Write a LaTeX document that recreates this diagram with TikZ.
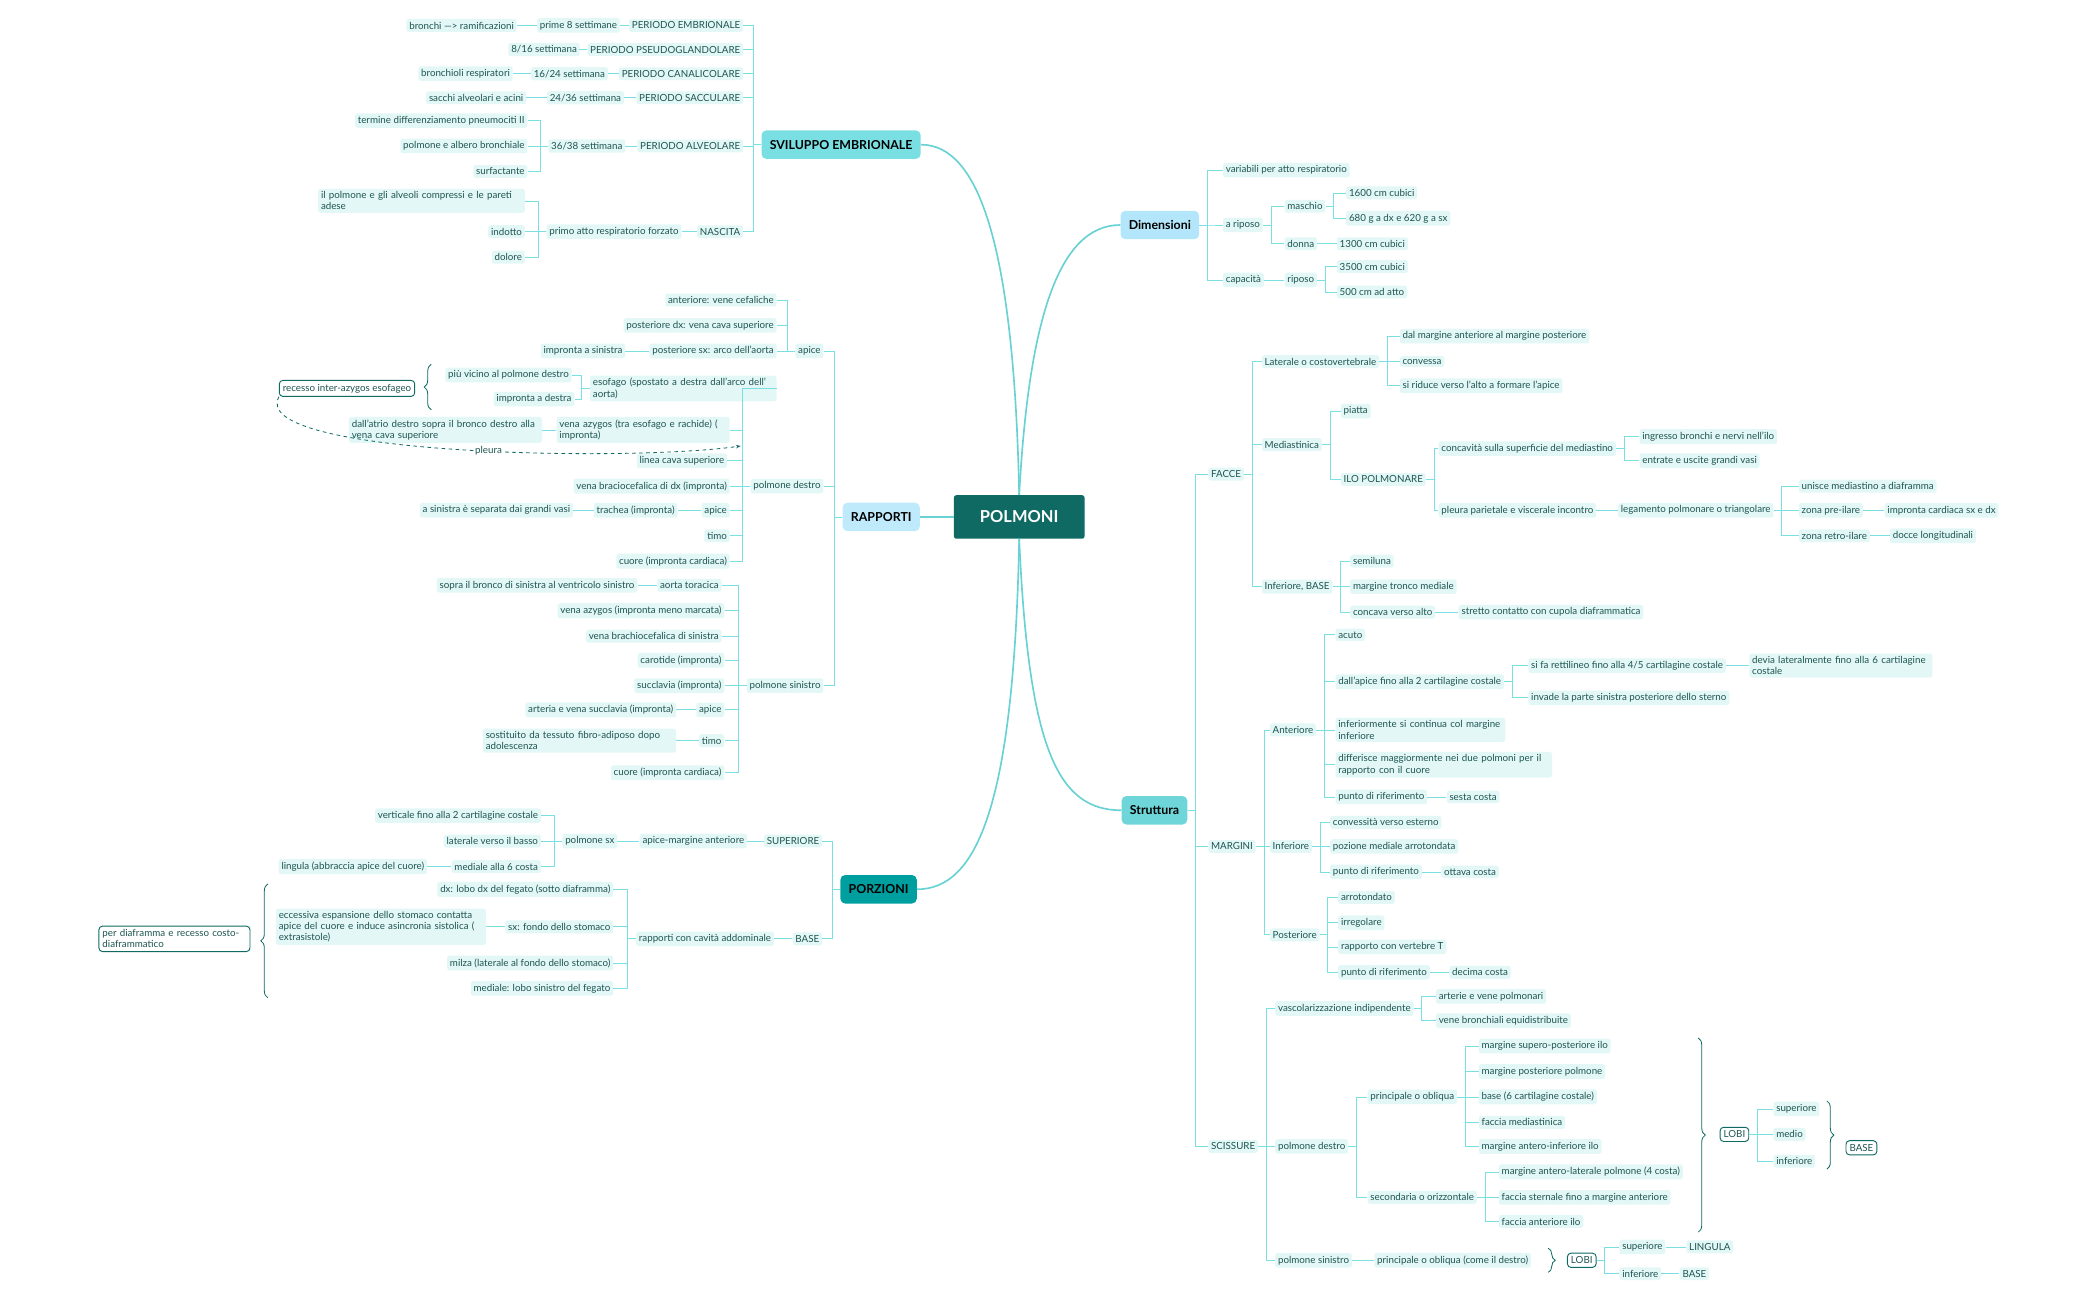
\documentclass[tikz,border=0pt]{standalone}
\usepackage{fontspec}
\setmainfont{Lato}
\usetikzlibrary{decorations.pathreplacing,arrows.meta}
\definecolor{tx}{HTML}{1E5550}
\definecolor{lf}{HTML}{E3F7F7}
\definecolor{lnc}{HTML}{7ADFE2}
\definecolor{rootc}{HTML}{0E6A63}
\begin{document}
\begin{tikzpicture}[x=0.04cm,y=-0.04cm,
 lf/.style={fill=lf,text=tx,rounded corners=2pt,inner sep=2.4pt,font=\fontsize{8.3}{9.4}\selectfont,align=left},
 ol/.style={draw=rootc,fill=white,text=tx,rounded corners=3pt,inner sep=3pt,line width=0.8pt,font=\fontsize{8.3}{9.4}\selectfont,align=left},
 mn/.style={rounded corners=4pt,inner sep=7pt,font=\bfseries\fontsize{10.5}{12}\selectfont,text=black,minimum height=0.85cm},
 ln/.style={draw=lnc,line width=0.6pt},
 br/.style={draw=rootc,line width=0.7pt,decorate,decoration={brace,amplitude=6pt}},
 big/.style={draw=lnc!85!teal,line width=1.4pt}]
\useasboundingbox (0,0) rectangle (1568,970);
\newcommand\cR[2]{\draw[ln] (#1.east) -- ++(6,0) |- (#2.west);}
\newcommand\cL[2]{\draw[ln] (#1.west) -- ++(-6,0) |- (#2.east);}
% root
\node[fill=rootc,text=white,font=\bfseries\fontsize{14}{16}\selectfont,minimum width=3.9cm,minimum height=1.3cm,rounded corners=2pt] (root) at (761,386) {POLMONI};
\node[mn,fill=lnc] (svi) at (628,108) {SVILUPPO EMBRIONALE};
\node[mn,fill=cyan!30] (dim) at (866,168) {Dimensioni};
\node[mn,fill=cyan!25] (rap) at (658,386) {RAPPORTI};
\node[mn,fill=teal!75!cyan] (por) at (656,664) {PORZIONI};
\node[mn,fill=lnc!90!teal] (str) at (862,605) {Struttura};
\draw[big] (root.north) .. controls (757,180) and (730,108) .. (svi.east);
\draw[big] (root.north) .. controls (768,240) and (790,168) .. (dim.west);
\draw[big] (root.west) -- (rap.east);
\draw[big] (root.south) .. controls (757,600) and (730,664) .. (por.east);
\draw[big] (root.south) .. controls (768,560) and (790,605) .. (str.west);

% ---------- Dimensioni
\node[lf,anchor=west] (d1) at (913,127) {variabili per atto respiratorio};
\node[lf,anchor=west] (d2) at (913,168) {a riposo};
\node[lf,anchor=west] (d3) at (913,209) {capacità};
\node[lf,anchor=west] (d21) at (959,154) {maschio};
\node[lf,anchor=west] (d22) at (959,182) {donna};
\node[lf,anchor=west] (d211) at (1005,144) {1600 cm cubici};
\node[lf,anchor=west] (d212) at (1005,163) {680 g a dx e 620 g a sx};
\node[lf,anchor=west] (d221) at (998,182) {1300 cm cubici};
\node[lf,anchor=west] (d31) at (959,209) {riposo};
\node[lf,anchor=west] (d311) at (998,199) {3500 cm cubici};
\node[lf,anchor=west] (d312) at (998,218) {500 cm ad atto};
\foreach \c in {d1,d2,d3}{\cR{dim}{\c}}
\cR{d2}{d21}\cR{d2}{d22}\cR{d21}{d211}\cR{d21}{d212}\cR{d22}{d221}
\cR{d3}{d31}\cR{d31}{d311}\cR{d31}{d312}

% ---------- Struttura
\node[lf,anchor=west] (fac) at (902,354) {FACCE};
\node[lf,anchor=west] (mar) at (902,632) {MARGINI};
\node[lf,anchor=west] (sci) at (902,856) {SCISSURE};
\cR{str}{fac}\cR{str}{mar}\cR{str}{sci}
\node[lf,anchor=west] (lat) at (942,270) {Laterale o costovertebrale};
\node[lf,anchor=west] (med) at (942,332) {Mediastinica};
\node[lf,anchor=west] (inf) at (942,438) {Inferiore, BASE};
\cR{fac}{lat}\cR{fac}{med}\cR{fac}{inf}
\node[lf,anchor=west] (l1) at (1045,251) {dal margine anteriore al margine posteriore};
\node[lf,anchor=west] (l2) at (1045,270) {convessa};
\node[lf,anchor=west] (l3) at (1045,288) {si riduce verso l'alto a formare l'apice};
\cR{lat}{l1}\cR{lat}{l2}\cR{lat}{l3}
\node[lf,anchor=west] (m1) at (1001,307) {piatta};
\node[lf,anchor=west] (ilo) at (1001,358) {ILO POLMONARE};
\cR{med}{m1}\cR{med}{ilo}
\node[lf,anchor=west] (conc) at (1074,335) {concavità sulla superficie del mediastino};
\node[lf,anchor=west] (pleu) at (1074,381) {pleura parietale e viscerale incontro};
\cR{ilo}{conc}\cR{ilo}{pleu}
\node[lf,anchor=west] (c1) at (1224,326) {ingresso bronchi e nervi nell'ilo};
\node[lf,anchor=west] (c2) at (1224,344) {entrate e uscite grandi vasi};
\cR{conc}{c1}\cR{conc}{c2}
\node[lf,anchor=west] (leg) at (1208,381) {legamento polmonare o triangolare};
\cR{pleu}{leg}
\node[lf,anchor=west] (g1) at (1343,363) {unisce mediastino a diaframma};
\node[lf,anchor=west] (g2) at (1343,381) {zona pre-ilare};
\node[lf,anchor=west] (g3) at (1343,400) {zona retro-ilare};
\cR{leg}{g1}\cR{leg}{g2}\cR{leg}{g3}
\node[lf,anchor=west] (g21) at (1407,381) {impronta cardiaca sx e dx};
\node[lf,anchor=west] (g31) at (1411,400) {docce longitudinali};
\cR{g2}{g21}\cR{g3}{g31}
\node[lf,anchor=west] (i1) at (1008,419) {semiluna};
\node[lf,anchor=west] (i2) at (1008,438) {margine tronco mediale};
\node[lf,anchor=west] (i3) at (1008,457) {concava verso alto};
\node[lf,anchor=west] (i31) at (1089,457) {stretto contatto con cupola diaframmatica};
\cR{inf}{i1}\cR{inf}{i2}\cR{inf}{i3}\cR{i3}{i31}
% margini
\node[lf,anchor=west] (ant) at (948,545) {Anteriore};
\node[lf,anchor=west] (minf) at (948,632) {Inferiore};
\node[lf,anchor=west] (post) at (948,698) {Posteriore};
\cR{mar}{ant}\cR{mar}{minf}\cR{mar}{post}
\node[lf,anchor=west] (a1) at (997,474) {acuto};
\node[lf,anchor=west] (a2) at (997,509) {dall'apice fino alla 2 cartilagine costale};
\node[lf,anchor=west,text width=4.9cm] (a3) at (997,545) {inferiormente si continua col margine inferiore};
\node[lf,anchor=west,text width=6.3cm] (a4) at (997,571) {differisce maggiormente nei due polmoni per il rapporto con il cuore};
\node[lf,anchor=west] (a5) at (997,595) {punto di riferimento};
\node[lf,anchor=west] (a51) at (1080,595) {sesta costa};
\foreach \c in {a1,a2,a3,a4,a5}{\cR{ant}{\c}}
\cR{a5}{a51}
\node[lf,anchor=west] (a21) at (1141,497) {si fa rettilineo fino alla 4/5 cartilagine costale};
\node[lf,anchor=west] (a22) at (1141,521) {invade la parte sinistra posteriore dello sterno};
\node[lf,anchor=west,text width=5.3cm] (a211) at (1306,497) {devia lateralmente fino alla 6 cartilagine costale};
\cR{a2}{a21}\cR{a2}{a22}\cR{a21}{a211}
\node[lf,anchor=west] (n1) at (993,614) {convessità verso esterno};
\node[lf,anchor=west] (n2) at (993,632) {pozione mediale arrotondata};
\node[lf,anchor=west] (n3) at (993,651) {punto di riferimento};
\node[lf,anchor=west] (n31) at (1076,651) {ottava costa};
\cR{minf}{n1}\cR{minf}{n2}\cR{minf}{n3}\cR{n3}{n31}
\node[lf,anchor=west] (p1) at (999,670) {arrotondato};
\node[lf,anchor=west] (p2) at (999,689) {irregolare};
\node[lf,anchor=west] (p3) at (999,707) {rapporto con vertebre T};
\node[lf,anchor=west] (p4) at (999,726) {punto di riferimento};
\node[lf,anchor=west] (p41) at (1082,726) {decima costa};
\foreach \c in {p1,p2,p3,p4}{\cR{post}{\c}}
\cR{p4}{p41}
% scissure
\node[lf,anchor=west] (vas) at (952,753) {vascolarizzazione indipendente};
\node[lf,anchor=west] (pd) at (952,856) {polmone destro};
\node[lf,anchor=west] (ps) at (952,941) {polmone sinistro};
\cR{sci}{vas}\cR{sci}{pd}\cR{sci}{ps}
\node[lf,anchor=west] (v1) at (1072,744) {arterie e vene polmonari};
\node[lf,anchor=west] (v2) at (1072,762) {vene bronchiali equidistribuite};
\cR{vas}{v1}\cR{vas}{v2}
\node[lf,anchor=west] (po) at (1021,819) {principale o obliqua};
\node[lf,anchor=west] (so) at (1021,894) {secondaria o orizzontale};
\cR{pd}{po}\cR{pd}{so}
\node[lf,anchor=west] (o1) at (1104,781) {margine supero-posteriore ilo};
\node[lf,anchor=west] (o2) at (1104,800) {margine posteriore polmone};
\node[lf,anchor=west] (o3) at (1104,819) {base (6 cartilagine costale)};
\node[lf,anchor=west] (o4) at (1104,838) {faccia mediastinica};
\node[lf,anchor=west] (o5) at (1104,856) {margine antero-inferiore ilo};
\foreach \c in {o1,o2,o3,o4,o5}{\cR{po}{\c}}
\node[lf,anchor=west] (s1) at (1119,875) {margine antero-laterale polmone (4 costa)};
\node[lf,anchor=west] (s2) at (1119,894) {faccia sternale fino a margine anteriore};
\node[lf,anchor=west] (s3) at (1119,912) {faccia anteriore ilo};
\foreach \c in {s1,s2,s3}{\cR{so}{\c}}
\draw[br] (1268,775) -- (1268,920);
\node[ol,anchor=west] (lobi) at (1284,847) {LOBI};
\node[lf,anchor=west] (lb1) at (1324,828) {superiore};
\node[lf,anchor=west] (lb2) at (1324,847) {medio};
\node[lf,anchor=west] (lb3) at (1324,867) {inferiore};
\cR{lobi}{lb1}\cR{lobi}{lb2}\cR{lobi}{lb3}
\draw[br] (1364,822) -- (1364,873);
\node[ol,anchor=west] (base2) at (1378,857) {BASE};
\node[lf,anchor=west] (pso) at (1026,941) {principale o obliqua (come il destro)};
\cR{ps}{pso}
\draw[br] (1156,932) -- (1156,950);
\node[ol,anchor=west] (lobi2) at (1170,941) {LOBI};
\node[lf,anchor=west] (ls1) at (1209,931) {superiore};
\node[lf,anchor=west] (ls2) at (1209,951) {inferiore};
\cR{lobi2}{ls1}\cR{lobi2}{ls2}
\node[lf,anchor=west] (ls11) at (1259,931) {LINGULA};
\node[lf,anchor=west] (ls21) at (1254,951) {BASE};
\cR{ls1}{ls11}\cR{ls2}{ls21}

% ---------- Sviluppo
\node[lf,anchor=east] (e1) at (555,19) {PERIODO EMBRIONALE};
\node[lf,anchor=east] (e2) at (555,37) {PERIODO PSEUDOGLANDOLARE};
\node[lf,anchor=east] (e3) at (555,55) {PERIODO CANALICOLARE};
\node[lf,anchor=east] (e4) at (555,73) {PERIODO SACCULARE};
\node[lf,anchor=east] (e5) at (555,109) {PERIODO ALVEOLARE};
\node[lf,anchor=east] (e6) at (555,173) {NASCITA};
\foreach \c in {e1,e2,e3,e4,e5,e6}{\cL{svi}{\c}}
\node[lf,anchor=east] (e11) at (463,19) {prime 8 settimane};
\node[lf,anchor=east] (e111) at (386,19) {bronchi ---> ramificazioni};
\node[lf,anchor=east] (e21) at (433,37) {8/16 settimana};
\node[lf,anchor=east] (e31) at (454,55) {16/24 settimana};
\node[lf,anchor=east] (e311) at (383,55) {bronchioli respiratori};
\node[lf,anchor=east] (e41) at (466,73) {24/36 settimana};
\node[lf,anchor=east] (e411) at (393,73) {sacchi alveolari e acini};
\node[lf,anchor=east] (e51) at (467,109) {36/38 settimana};
\node[lf,anchor=east] (e511) at (394,90) {termine differenziamento pneumociti II};
\node[lf,anchor=east] (e512) at (394,109) {polmone e albero bronchiale};
\node[lf,anchor=east] (e513) at (394,128) {surfactante};
\node[lf,anchor=east] (e61) at (509,173) {primo atto respiratorio forzato};
\node[lf,anchor=east,text width=6.0cm] (e611) at (392,150) {il polmone e gli alveoli compressi e le pareti adese};
\node[lf,anchor=east] (e612) at (392,173) {indotto};
\node[lf,anchor=east] (e613) at (392,192) {dolore};
\cL{e1}{e11}\cL{e11}{e111}\cL{e2}{e21}\cL{e3}{e31}\cL{e31}{e311}\cL{e4}{e41}\cL{e41}{e411}
\cL{e5}{e51}\cL{e51}{e511}\cL{e51}{e512}\cL{e51}{e513}
\cL{e6}{e61}\cL{e61}{e611}\cL{e61}{e612}\cL{e61}{e613}

% ---------- Rapporti
\node[lf,anchor=east] (ra) at (615,262) {apice};
\node[lf,anchor=east] (rd) at (615,363) {polmone destro};
\node[lf,anchor=east] (rs) at (615,512) {polmone sinistro};
\cL{rap}{ra}\cL{rap}{rd}\cL{rap}{rs}
\node[lf,anchor=east] (ra1) at (580,224) {anteriore: vene cefaliche};
\node[lf,anchor=east] (ra2) at (580,243) {posteriore dx: vena cava superiore};
\node[lf,anchor=east] (ra3) at (580,262) {posteriore sx: arco dell'aorta};
\node[lf,anchor=east] (ra31) at (467,262) {impronta a sinistra};
\cL{ra}{ra1}\cL{ra}{ra2}\cL{ra}{ra3}\cL{ra3}{ra31}
\node[lf,anchor=east,text width=5.4cm] (rd1) at (580,290) {esofago (spostato a destra dall'arco dell' aorta)};
\node[lf,anchor=east,text width=5.0cm] (rd2) at (545,321) {vena azygos (tra esofago e rachide) ( impronta)};
\node[lf,anchor=east] (rd3) at (543,344) {linea cava superiore};
\node[lf,anchor=east] (rd4) at (545,363) {vena braciocefalica di dx (impronta)};
\node[lf,anchor=east] (rd5) at (545,381) {apice};
\node[lf,anchor=east] (rd6) at (545,400) {timo};
\node[lf,anchor=east] (rd7) at (545,419) {cuore (impronta cardiaca)};
\foreach \c in {rd1,rd2,rd3,rd4,rd5,rd6,rd7}{\cL{rd}{\c}}
\node[lf,anchor=east] (rd11) at (427,280) {più vicino al polmone destro};
\node[lf,anchor=east] (rd12) at (429,298) {impronta a destra};
\cL{rd1}{rd11}\cL{rd1}{rd12}
\draw[br] (322,306) -- (322,272);
\node[ol,anchor=east] (rec) at (310,290) {recesso inter-azygos esofageo};
\node[lf,anchor=east,text width=5.6cm] (rd21) at (405,321) {dall'atrio destro sopra il bronco destro alla vena cava superiore};
\cL{rd2}{rd21}
\draw[rootc,dashed,line width=0.7pt,-{Stealth[length=4pt]}] (rec.south west) .. controls (185,340) and (470,345) .. (553,333) node[pos=0.55,fill=white,text=tx,inner sep=1pt,font=\fontsize{8.3}{9.4}\selectfont] (plab) {pleura};
\node[lf,anchor=east] (rd51) at (506,381) {trachea (impronta)};
\node[lf,anchor=east] (rd511) at (428,381) {a sinistra è separata dai grandi vasi};
\cL{rd5}{rd51}\cL{rd51}{rd511}
\node[lf,anchor=east] (rs1) at (539,437) {aorta toracica};
\node[lf,anchor=east] (rs2) at (541,456) {vena azygos (impronta meno marcata)};
\node[lf,anchor=east] (rs3) at (539,475) {vena brachiocefalica di sinistra};
\node[lf,anchor=east] (rs4) at (541,493) {carotide (impronta)};
\node[lf,anchor=east] (rs5) at (541,512) {succlavia (impronta)};
\node[lf,anchor=east] (rs6) at (541,530) {apice};
\node[lf,anchor=east] (rs7) at (541,553) {timo};
\node[lf,anchor=east] (rs8) at (541,577) {cuore (impronta cardiaca)};
\foreach \c in {rs1,rs2,rs3,rs4,rs5,rs6,rs7,rs8}{\cL{rs}{\c}}
\node[lf,anchor=east] (rs11) at (476,437) {sopra il bronco di sinistra al ventricolo sinistro};
\node[lf,anchor=east] (rs61) at (505,530) {arteria e vena succlavia (impronta)};
\node[lf,anchor=east,text width=5.6cm] (rs71) at (505,553) {sostituito da tessuto fibro-adiposo dopo adolescenza};
\cL{rs1}{rs11}\cL{rs6}{rs61}\cL{rs7}{rs71}

% ---------- Porzioni
\node[lf,anchor=east] (sup) at (614,628) {SUPERIORE};
\node[lf,anchor=east] (bas) at (614,701) {BASE};
\cL{por}{sup}\cL{por}{bas}
\node[lf,anchor=east] (sp1) at (558,628) {apice-margine anteriore};
\node[lf,anchor=east] (sp11) at (461,628) {polmone sx};
\cL{sup}{sp1}\cL{sp1}{sp11}
\node[lf,anchor=east] (q1) at (404,609) {verticale fino alla 2 cartilagine costale};
\node[lf,anchor=east] (q2) at (404,628) {laterale verso il basso};
\node[lf,anchor=east] (q3) at (404,647) {mediale alla 6 costa};
\node[lf,anchor=east] (q31) at (319,647) {lingula (abbraccia apice del cuore)};
\cL{sp11}{q1}\cL{sp11}{q2}\cL{sp11}{q3}\cL{q3}{q31}
\node[lf,anchor=east] (b1) at (578,701) {rapporti con cavità addominale};
\cL{bas}{b1}
\node[lf,anchor=east] (b11) at (458,664) {dx: lobo dx del fegato (sotto diaframma)};
\node[lf,anchor=east] (b12) at (458,692) {sx: fondo dello stomaco};
\node[lf,anchor=east] (b13) at (458,719) {milza (laterale al fondo dello stomaco)};
\node[lf,anchor=east] (b14) at (458,738) {mediale: lobo sinistro del fegato};
\foreach \c in {b11,b12,b13,b14}{\cL{b1}{\c}}
\node[lf,anchor=east,text width=6.1cm] (b121) at (363,692) {eccessiva espansione dello stomaco contatta apice del cuore e induce asincronia sistolica ( extrasistole)};
\cL{b12}{b121}
\draw[br] (200,745) -- (200,660);
\node[ol,anchor=east,text width=4.3cm] (dia) at (187,701) {per diaframma e recesso costo-diaframmatico};
\end{tikzpicture}
\end{document}
